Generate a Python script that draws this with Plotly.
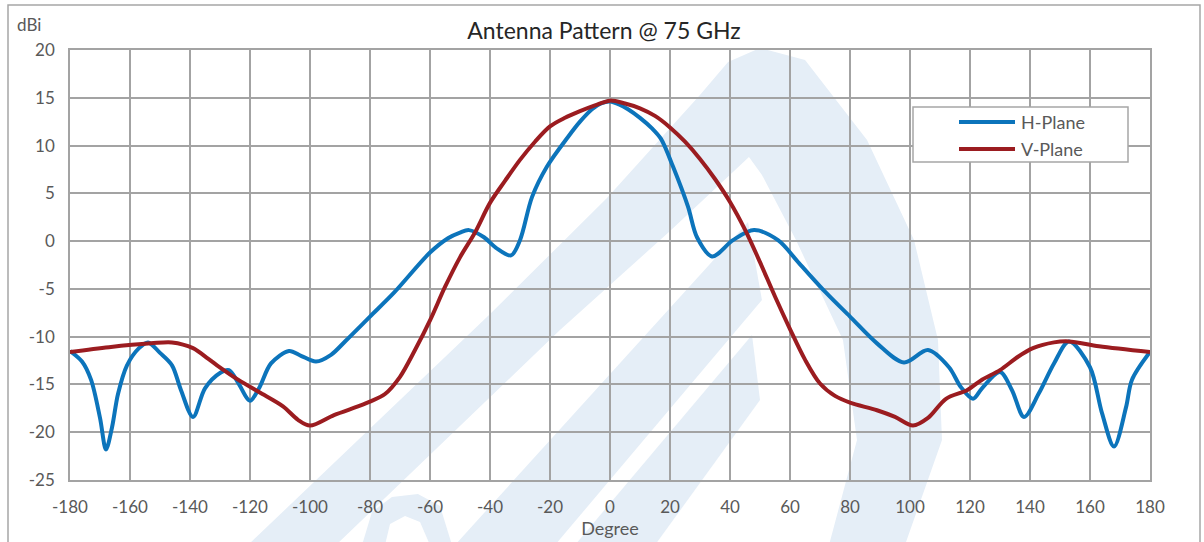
import plotly.graph_objects as go

# ---- data ----
h_deg = [-180, -176, -173, -170, -168, -166, -164, -161, -157, -154, -150, -146, -143, -139,
         -135, -130, -127, -124, -120, -117, -113, -107, -103, -98, -93, -88, -80, -72, -60,
         -54, -50, -47, -42, -38, -33, -30, -26, -21, -14, -10, -6, -3, 0, 3, 6, 10, 14, 17,
         21, 26, 29, 34, 41, 48, 56, 63, 72, 80, 89, 98, 106, 113, 117, 121, 124, 130, 134,
         138, 143, 148, 153, 160, 164, 168, 172, 174, 180]
h_val = [-11.5, -12.6, -14.5, -18.5, -21.8, -19.5, -16.0, -13.0, -11.2, -10.6, -11.7, -13.0,
         -15.6, -18.4, -15.4, -13.8, -13.5, -14.8, -16.7, -15.4, -12.8, -11.5, -12.0, -12.6,
         -11.9, -10.4, -7.9, -5.4, -1.2, 0.3, 0.9, 1.15, 0.4, -0.7, -1.5, 0.1, 4.6, 7.8, 10.9,
         12.5, 13.8, 14.4, 14.6, 14.3, 13.8, 12.9, 11.8, 10.7, 7.8, 3.6, 0.4, -1.6, 0.1, 1.15,
         0.1, -2.3, -5.4, -7.9, -10.7, -12.7, -11.4, -13.2, -15.3, -16.5, -15.4, -13.7, -15.6,
         -18.4, -15.9, -12.8, -10.5, -13.2, -18.0, -21.5, -17.4, -14.5, -11.6]

v_deg = [-180, -167, -153, -146, -139, -134, -131, -124, -117, -109, -104, -100, -92, -84, -80,
         -75, -70, -65, -60, -55, -50, -45, -40, -35, -30, -25, -20, -15, -10, -5, 0, 5, 10,
         15, 20, 25, 30, 35, 40, 45, 50, 55, 60, 65, 70, 75, 80, 89, 95, 101, 106, 112, 119,
         124, 130, 136, 141, 148, 153, 163, 180]
v_val = [-11.6, -11.1, -10.7, -10.6, -11.2, -12.3, -13.0, -14.5, -15.8, -17.3, -18.7, -19.3,
         -18.2, -17.3, -16.8, -16.0, -14.2, -11.4, -8.3, -4.8, -1.7, 0.9, 4.0, 6.3, 8.5, 10.4,
         12.0, 12.9, 13.6, 14.2, 14.7, 14.4, 13.9, 13.1, 11.9, 10.4, 8.6, 6.5, 4.1, 1.2, -2.2,
         -5.8, -9.2, -12.4, -14.9, -16.2, -16.9, -17.7, -18.4, -19.3, -18.5, -16.5, -15.6,
         -14.5, -13.5, -12.1, -11.2, -10.6, -10.5, -11.0, -11.6]

x_ticks = list(range(-180, 181, 20))
y_ticks = list(range(-25, 21, 5))

BLUE = "#0C74BB"
RED = "#9B1C20"
GRID = "#A3A3A3"
TXT = "#595959"
FONT = "Lato, 'Open Sans', sans-serif"

W, H = 1204, 542
# plot area in screen pixels: x 70..1150, y 50..480
SX0, SX1, SY0, SY1 = 70, 1150, 50, 480
L, T = SX0, SY0
R, B = W - SX1, H - SY1
PW, PH = SX1 - SX0, SY1 - SY0


def px(xp, yp):
    """screen pixel -> paper coordinates"""
    return ((xp - SX0) / PW, (SY1 - yp) / PH)


def poly(points):
    s = ""
    for i, (a, b) in enumerate(points):
        x, y = px(a, b)
        s += ("M" if i == 0 else "L") + f"{x:.4f},{y:.4f} "
    return s + "Z"


fig = go.Figure()
fig.add_trace(go.Scatter(x=h_deg, y=h_val, mode="lines", name="H-Plane",
                         line=dict(color=BLUE, width=4, shape="spline", smoothing=0.9),
                         showlegend=False))
fig.add_trace(go.Scatter(x=v_deg, y=v_val, mode="lines", name="V-Plane",
                         line=dict(color=RED, width=4, shape="spline", smoothing=0.9),
                         showlegend=False))

shapes = []
WM = "#E5EEF7"
# watermark (decorative logo, approximate)
wm_polys = [
    # left outer stroke up to the apex, continuing into the right leg
    [(248, 545), (489, 315), (607, 198), (700, 95), (728, 62), (760, 48), (805, 60),
     (867, 140), (914, 240), (938, 340), (942, 440), (905, 545), (829, 545), (857, 440),
     (843, 340), (796, 240), (762, 175), (749, 157), (669, 232), (560, 330), (336, 545)],
    # inner stroke
    [(455, 545), (555, 545), (762, 300), (748, 222)],
    # inner wedge
    [(575, 545), (655, 545), (760, 400), (752, 335)],
    # small arch at the bottom
    [(362, 545), (372, 512), (392, 497), (418, 494), (440, 506), (452, 545), (430, 545),
     (420, 522), (405, 516), (390, 524), (385, 545)],
]
for p in wm_polys:
    shapes.append(dict(type="path", path=poly(p), xref="paper", yref="paper",
                       fillcolor=WM, line=dict(width=0), layer="below"))

# outer chart border
x0, y0 = px(8, 548)
x1, y1 = px(1200, 5)
shapes.append(dict(type="rect", xref="paper", yref="paper", x0=x0, y0=y0, x1=x1, y1=y1,
                   line=dict(color="#A6A6A6", width=1.5), fillcolor="rgba(0,0,0,0)", layer="above"))

# legend box
lx0, ly0 = px(913, 162)
lx1, ly1 = px(1128, 107)
shapes.append(dict(type="rect", xref="paper", yref="paper", x0=lx0, y0=ly0, x1=lx1, y1=ly1,
                   line=dict(color="#A6A6A6", width=1.5), fillcolor="white", layer="above"))
annotations = []
for name, col, yy in [("H-Plane", BLUE, 122), ("V-Plane", RED, 149)]:
    ax0, ay = px(959, yy)
    ax1, _ = px(1015, yy)
    shapes.append(dict(type="line", xref="paper", yref="paper", x0=ax0, x1=ax1, y0=ay, y1=ay,
                       line=dict(color=col, width=4), layer="above"))
    tx, ty = px(1019, yy)
    annotations.append(dict(text=name, xref="paper", yref="paper", x=tx, y=ty,
                            xanchor="left", yanchor="middle", showarrow=False,
                            font=dict(family=FONT, size=18, color=TXT)))

ax_, ay_ = px(29, 25)
annotations.append(dict(text="dBi", xref="paper", yref="paper", x=ax_, y=ay_,
                        xanchor="center", yanchor="middle", showarrow=False,
                        font=dict(family=FONT, size=17, color=TXT)))

fig.update_layout(
    width=W, height=H, autosize=False,
    margin=dict(l=L, r=R, t=T, b=B),
    paper_bgcolor="white", plot_bgcolor="rgba(0,0,0,0)",
    title=dict(text="Antenna Pattern @ 75 GHz", x=604 / W, xanchor="center",
               y=1 - 31 / H, yanchor="middle",
               font=dict(family=FONT, size=23, color="#262626")),
    shapes=shapes, annotations=annotations, showlegend=False,
    xaxis=dict(range=[-180, 180], tickvals=x_ticks, ticktext=[str(v) for v in x_ticks],
               showgrid=True, gridcolor=GRID, gridwidth=1.6, zeroline=False,
               showline=True, linecolor=GRID, linewidth=1.6, mirror=True, ticks="",
               ticklabelstandoff=11,
               tickfont=dict(family=FONT, size=17, color=TXT),
               title=dict(text="Degree", font=dict(family=FONT, size=18, color=TXT), standoff=0)),
    yaxis=dict(range=[-25, 20], tickvals=y_ticks, ticktext=[str(v) for v in y_ticks],
               showgrid=True, gridcolor=GRID, gridwidth=1.6, zeroline=False,
               showline=True, linecolor=GRID, linewidth=1.6, mirror=True, ticks="",
               ticklabelstandoff=10,
               tickfont=dict(family=FONT, size=17, color=TXT)),
)

fig.write_html("out.html", config={"displayModeBar": False},
               post_script="document.body.style.margin='0';document.body.style.overflow='hidden';")
